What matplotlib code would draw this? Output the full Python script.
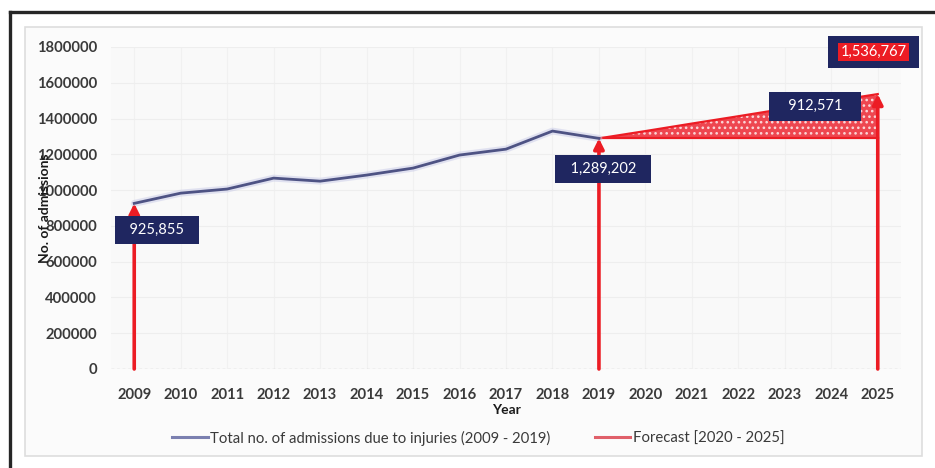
import matplotlib
matplotlib.use("Agg")
import matplotlib.pyplot as plt
from matplotlib.patches import Rectangle
from matplotlib.lines import Line2D

plt.rcParams['font.family'] = ['Lato', 'DejaVu Sans']
plt.rcParams['hatch.linewidth'] = 1.1

# Observed admissions 2009-2019
years_obs = [2009, 2010, 2011, 2012, 2013, 2014, 2015, 2016, 2017, 2018, 2019]
admissions = [925855, 983000, 1006000, 1067000, 1050000, 1084000, 1123000,
              1196000, 1229000, 1330000, 1289202]

# Forecast 2020-2025 (starting from the 2019 value)
years_fc = [2019, 2020, 2021, 2022, 2023, 2024, 2025]
forecast = [1289202, 1330000, 1372000, 1413000, 1455000, 1496000, 1536767]

all_years = list(range(2009, 2026))
yticks = list(range(0, 1800001, 200000))

navy = '#1f2660'
red = '#ec1c24'

fig = plt.figure(figsize=(9.35, 4.68), dpi=100)
fig.patch.set_facecolor('white')

# outer frame of the chart
fig.patches.append(Rectangle((25 / 935, 1 - 456 / 468), 897 / 935, 429 / 468,
                             transform=fig.transFigure, facecolor='#fbfbfb',
                             edgecolor='#dedede', linewidth=1.2, zorder=-5))
fig.add_artist(Line2D([10 / 935, 1], [1 - 12 / 468, 1 - 12 / 468],
                      transform=fig.transFigure, color='#262626', linewidth=2.4))
fig.add_artist(Line2D([10 / 935, 10 / 935], [0, 1 - 12 / 468],
                      transform=fig.transFigure, color='#262626', linewidth=2.4))

ax = fig.add_axes([111 / 935, 1 - 369 / 468, 790 / 935, 322 / 468])
ax.set_zorder(3)
ax.set_facecolor('#f9f9f9')
ax.set_xlim(2008.5, 2025.5)
ax.set_ylim(0, 1800000)
for s in ax.spines.values():
    s.set_visible(False)

ax.set_yticks(yticks)
ax.set_yticklabels([str(v) for v in yticks])
ax.set_xticks(all_years)
ax.set_xticklabels([str(y) for y in all_years])
ax.tick_params(length=0, labelsize=10.6, labelcolor='#3a3a3a')
ax.tick_params(axis='x', pad=14)
ax.tick_params(axis='y', pad=10)
for lab in ax.get_xticklabels() + ax.get_yticklabels():
    lab.set_fontweight('bold')

ax.grid(axis='y', color='#eeeeee', linewidth=0.8)
ax.grid(axis='x', color='#f1f1f1', linewidth=0.8)
ax.set_axisbelow(True)
ax.axhline(0, color='#cfcfcf', linewidth=1, linestyle=(0, (2, 2)))

# forecast band above the 2019 level
base = forecast[0]
ax.fill_between(years_fc, [base] * len(years_fc), forecast,
                facecolor='#ee4650', edgecolor='#fbd6d8', hatch='...',
                linewidth=0, zorder=2)
ax.plot(years_fc, forecast, color=red, linewidth=1.6, zorder=3)
ax.plot([years_fc[0], years_fc[-1]], [base, base], color=red, linewidth=1.6, zorder=3)

# observed series
ax.plot(years_obs, admissions, color='#c9cbe8', linewidth=5, alpha=0.5, zorder=3,
        solid_capstyle='round')
ax.plot(years_obs, admissions, color='#4e5384', linewidth=2.0, zorder=4)

# red arrows from the axis up to the highlighted values
for yr, val in [(years_obs[0], admissions[0]), (years_obs[-1], admissions[-1]),
                (years_fc[-1], forecast[-1])]:
    ax.annotate('', xy=(yr, val), xytext=(yr, 0),
                arrowprops=dict(arrowstyle='-|>,head_length=0.6,head_width=0.3',
                                color=red, linewidth=2.6, shrinkA=0, shrinkB=0),
                zorder=5)

box = dict(boxstyle='square,pad=0.5', facecolor=navy, edgecolor='none')
tkw = dict(color='white', fontsize=10.5, ha='center', va='center', zorder=6)
ax.text(2009.49, 776000, '  925,855  ', bbox=box, **tkw)
ax.text(2019.09, 1117000, '  1,289,202  ', bbox=box, **tkw)
ax.text(2023.65, 1469000, '   912,571   ', bbox=box, **tkw)
ax.text(2024.91, 1771000, ' 1,536,767 ', bbox=dict(boxstyle='square,pad=0.6',
        facecolor=navy, edgecolor='none'), clip_on=False, **tkw)
ax.text(2024.91, 1771000, '1,536,767', bbox=dict(boxstyle='square,pad=0.15',
        facecolor=red, edgecolor='none'), clip_on=False,
        **{**tkw, 'zorder': 7})

ax.set_xlabel('Year', fontsize=10, fontweight='bold', color='#1a1a1a', labelpad=1)
ax.set_ylabel('No. of admissions', fontsize=10, fontweight='bold',
              color='#1a1a1a', labelpad=-10)

handles = [Line2D([], [], color='#7b80b0', linewidth=2.2),
           Line2D([], [], color='#e0606a', linewidth=2.2)]
fig.legend(handles, ['Total no. of admissions due to injuries (2009 - 2019)',
                     'Forecast [2020 - 2025]'],
           loc='center', bbox_to_anchor=(478 / 935, 1 - 438 / 468), ncol=2,
           frameon=False, fontsize=10.7, handlelength=2.4, handletextpad=0.15,
           columnspacing=3.0, labelcolor='#3a3a3a')

fig.savefig('out.png', dpi=100)
